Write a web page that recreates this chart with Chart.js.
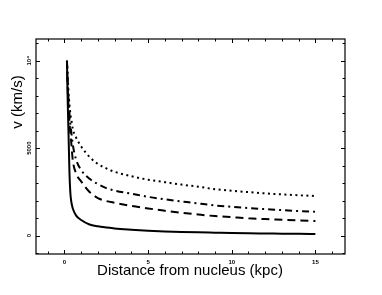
<!DOCTYPE html>
<html>
<head>
<meta charset="utf-8">
<script src="https://cdn.jsdelivr.net/npm/chart.js@4/dist/chart.umd.min.js"></script>
<style>
  html, body { margin: 0; padding: 0; background: #fff; }
  #wrap { width: 382px; height: 295px; }
</style>
</head>
<body>
<div id="wrap"><canvas id="chart"></canvas></div>
<script>
// distance from nucleus (kpc)
const distance = [0.15, 0.2, 0.25, 0.3, 0.35, 0.4, 0.5, 0.7, 1, 1.5, 2, 2.5, 3, 4, 5, 6, 7, 8, 9, 10, 11, 12, 13, 14, 15];

// velocities (km/s)
const vSolid   = [10000, 7500, 5600, 3600, 2500, 2000, 1550, 1150, 900, 640, 540, 470, 410, 340, 285, 245, 215, 190, 170, 150, 135, 125, 115, 105, 100];
const vDashed  = [10000, 8300, 7300, 6500, 5900, 5400, 4300, 3550, 3100, 2500, 2150, 1980, 1880, 1700, 1560, 1420, 1310, 1210, 1120, 1060, 1000, 950, 910, 870, 840];
const vDashDot = [10000, 8700, 7700, 7000, 6400, 6000, 5200, 4350, 3750, 3250, 2950, 2720, 2580, 2400, 2220, 2080, 1960, 1840, 1730, 1650, 1580, 1520, 1460, 1410, 1370];
const vDotted  = [10000, 9000, 8100, 7500, 7000, 6700, 6100, 5600, 5100, 4500, 4100, 3850, 3650, 3400, 3200, 3060, 2920, 2800, 2660, 2570, 2490, 2420, 2360, 2310, 2270];

const xTicks = [0, 5, 10, 15];
const xTickLabels = ['0', '5', '10', '15'];
const yTicks = [0, 5000, 10000];
const yTickLabels = ['0', '5000', '10\u2074'];
const xTitle = 'Distance from nucleus (kpc)';
const yTitle = 'v (km/s)';

const pts = ys => distance.map((x, i) => ({ x: x, y: ys[i] }));

// frame, inward ticks and labels, all placed with the chart's scales
const framePlugin = {
    id: 'frame',
    afterDraw(chart) {
        const { ctx, chartArea: a, scales: { x, y } } = chart;
        ctx.save();
        ctx.strokeStyle = '#000';
        ctx.lineWidth = 1.2;
        ctx.strokeRect(a.left, a.top, a.right - a.left, a.bottom - a.top);

        ctx.lineWidth = 1;
        ctx.beginPath();
        for (let v = -1; v <= 16; v++) {
            const px = Math.round(x.getPixelForValue(v)) + 0.5;
            const len = v % 5 === 0 ? 4 : 2.5;
            ctx.moveTo(px, a.bottom); ctx.lineTo(px, a.bottom - len);
            ctx.moveTo(px, a.top); ctx.lineTo(px, a.top + len);
        }
        for (let v = -1000; v <= 11000; v += 1000) {
            const py = Math.round(y.getPixelForValue(v)) + 0.5;
            const len = v % 5000 === 0 ? 4 : 2.5;
            ctx.moveTo(a.left, py); ctx.lineTo(a.left + len, py);
            ctx.moveTo(a.right, py); ctx.lineTo(a.right - len, py);
        }
        ctx.stroke();

        ctx.fillStyle = '#000';
        ctx.font = 'bold 6px "Liberation Sans"';
        ctx.textAlign = 'center';
        ctx.textBaseline = 'middle';
        xTicks.forEach((v, i) => {
            ctx.fillText(xTickLabels[i], x.getPixelForValue(v), a.bottom + 8);
        });
        yTicks.forEach((v, i) => {
            ctx.save();
            ctx.translate(a.left - 7, y.getPixelForValue(v));
            ctx.rotate(-Math.PI / 2);
            ctx.fillText(yTickLabels[i], 0, 0);
            ctx.restore();
        });

        ctx.font = '15px "Liberation Sans"';
        ctx.fillText(xTitle, 190, 271);
        ctx.save();
        ctx.translate(18, 102);
        ctx.rotate(-Math.PI / 2);
        ctx.fillText(yTitle, 0, 0);
        ctx.restore();
        ctx.restore();
    }
};

const line = (data, dash, width) => ({
    data: pts(data),
    borderColor: '#000',
    borderWidth: width,
    borderDash: dash,
    pointRadius: 0,
    fill: false,
    cubicInterpolationMode: 'monotone'
});

new Chart(document.getElementById('chart'), {
    type: 'line',
    data: {
        datasets: [
            line(vSolid, [], 2),
            line(vDashed, [8, 5], 2),
            line(vDashDot, [7, 4, 2, 4], 2),
            line(vDotted, [2, 3.5], 2)
        ]
    },
    options: {
        responsive: true,
        maintainAspectRatio: false,
        animation: false,
        layout: { padding: { left: 36, right: 37, top: 39, bottom: 41 } },
        plugins: { legend: { display: false }, tooltip: { enabled: false } },
        scales: {
            x: { type: 'linear', display: false, min: -1.7, max: 16.77 },
            y: { display: false, min: -1046, max: 11240 }
        }
    },
    plugins: [framePlugin]
});
</script>
</body>
</html>
